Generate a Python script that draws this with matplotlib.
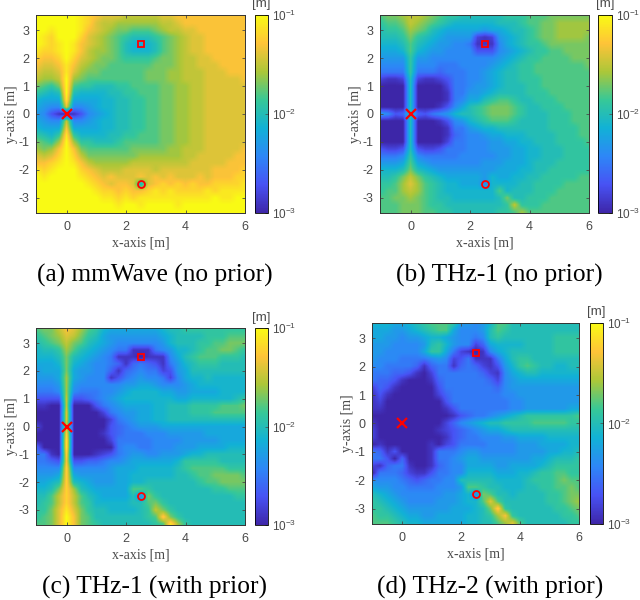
import matplotlib
matplotlib.use('Agg')
import matplotlib.pyplot as plt
import numpy as np
from matplotlib.colors import LinearSegmentedColormap

plt.rcParams['font.family'] = 'Liberation Sans'
plt.rcParams['mathtext.fontset'] = 'custom'
plt.rcParams['mathtext.rm'] = 'Liberation Sans'
plt.rcParams['mathtext.default'] = 'regular'
plt.rcParams['axes.unicode_minus'] = False

# grid of the maps, one cell every 0.25 m
x_cells = np.arange(29) * 0.25 - 1
y_cells = 3.5 - np.arange(29) * 0.25

# error, tenths of a decade above 1e-3 m
mmwave = [
[20,20,20,20,20,20,19,18,17,16,16,16,15,15,15,15,15,16,16,17,17,17,17,17,17,17,17,17,17],
[20,20,20,20,20,20,19,18,16,15,15,14,14,14,14,14,14,15,15,16,17,17,17,17,17,17,17,17,17],
[20,20,19,20,20,20,19,17,16,15,14,13,13,12,12,12,13,14,15,15,16,16,17,17,17,17,17,17,17],
[20,19,18,20,20,20,18,16,15,14,13,12,11,10,10,10,11,12,13,14,15,16,16,17,17,17,17,17,17],
[20,19,18,19,20,19,17,16,15,14,13,12,10,9,8,9,10,12,13,14,15,16,16,17,17,17,17,17,17],
[19,18,18,19,20,19,17,15,14,14,13,12,10,9,9,9,10,12,13,14,15,16,16,17,17,17,17,17,17],
[18,17,17,18,20,18,16,15,14,13,13,12,11,11,11,11,12,13,13,14,15,15,16,16,17,17,17,17,17],
[17,16,16,17,19,17,15,14,13,13,12,12,12,12,12,12,13,13,13,14,15,15,16,16,16,17,17,17,17],
[16,15,15,16,19,16,14,13,13,12,12,12,12,12,12,13,13,13,14,14,15,15,15,16,16,16,17,17,17],
[15,14,14,15,20,14,13,12,12,12,12,12,12,12,12,13,13,13,14,14,15,15,15,16,16,16,16,16,17],
[13,12,11,13,20,12,11,11,10,10,10,11,11,12,12,12,12,13,13,14,14,15,15,16,16,16,16,16,16],
[11,10,9,10,20,10,9,9,9,9,10,10,11,11,12,12,12,13,13,14,14,15,15,16,16,16,16,16,16],
[9,8,8,8,19,8,8,8,8,9,9,10,10,11,11,12,12,13,13,14,14,15,15,16,16,16,16,16,16],
[8,7,6,6,16,6,6,7,8,9,9,10,10,11,11,12,12,13,13,14,14,15,15,16,16,16,16,16,16],
[7,6,3,1,0,1,3,6,7,8,9,10,10,11,11,12,12,13,13,14,14,15,15,16,16,16,16,16,16],
[8,7,6,6,15,6,6,7,8,9,9,10,10,11,11,12,12,13,13,14,14,15,15,16,16,16,16,16,16],
[9,8,8,8,17,8,8,8,8,9,9,10,10,11,11,12,12,13,13,14,14,15,15,16,16,16,16,16,16],
[11,10,9,11,19,11,9,9,9,9,10,10,11,11,12,12,12,13,13,14,14,15,15,16,16,16,16,16,16],
[13,12,11,14,20,14,11,11,10,10,10,11,12,12,12,12,12,13,13,14,14,15,15,16,16,16,16,16,16],
[14,13,14,17,20,17,13,12,12,12,12,12,12,13,13,13,13,13,14,14,15,15,15,16,16,16,16,16,17],
[16,15,16,18,20,18,15,13,13,13,13,13,13,13,14,14,14,14,14,14,15,15,16,16,16,16,16,17,17],
[17,17,18,19,20,19,17,15,14,14,14,14,14,15,15,15,15,15,15,15,15,16,16,16,16,16,17,17,17],
[19,18,19,20,20,20,18,17,16,15,15,15,16,16,16,16,15,16,16,16,16,16,16,16,17,17,17,17,18],
[20,19,20,20,20,20,19,18,17,16,17,16,16,16,17,16,17,16,17,16,16,16,17,16,17,17,17,18,18],
[20,20,20,20,20,20,20,19,18,17,16,17,17,16,9,16,17,18,17,18,17,18,17,17,18,18,18,18,19],
[20,20,20,20,20,20,20,20,19,18,18,17,18,17,17,18,19,18,19,18,18,18,18,19,18,19,19,19,19],
[20,20,20,20,20,20,20,20,20,19,19,18,19,18,19,19,19,19,19,19,19,19,19,19,20,19,19,20,20],
[20,20,20,20,20,20,20,20,20,20,20,19,20,20,19,20,20,20,20,19,20,20,20,20,20,20,20,20,20],
[20,20,20,20,20,20,20,20,20,20,20,20,20,20,20,20,20,20,20,20,20,20,20,20,20,20,20,20,20],
]

thz1_no_prior = [
[12,13,13,14,15,15,14,13,12,11,11,10,10,10,10,10,10,11,11,11,12,12,12,13,13,13,13,13,13],
[11,12,12,13,15,14,13,12,11,10,9,9,9,9,9,9,10,10,10,11,12,12,13,13,14,14,14,14,14],
[10,11,11,12,14,13,12,10,9,8,8,8,8,8,7,8,8,9,10,10,11,12,13,13,14,14,14,14,14],
[10,10,10,11,13,11,10,9,8,7,7,7,7,2,1,2,7,8,9,10,11,12,13,13,14,14,14,14,13],
[9,9,9,10,12,10,9,8,7,7,6,6,5,1,1,1,6,8,9,10,11,11,12,13,13,13,13,13,13],
[8,8,8,9,12,9,8,7,7,6,6,6,6,3,3,3,6,7,8,9,10,11,11,12,12,13,13,13,13],
[7,7,7,7,11,7,7,6,6,6,6,6,6,6,6,6,7,8,9,10,11,11,12,12,12,12,13,13,13],
[6,6,6,6,11,6,6,6,5,5,5,6,6,6,6,7,8,9,10,11,11,12,12,12,12,12,12,12,13],
[5,5,5,5,11,5,5,5,4,5,5,5,6,6,7,8,9,10,10,11,11,12,12,12,12,12,12,12,12],
[2,1,1,2,10,2,1,1,2,3,5,5,6,6,7,8,9,10,10,11,11,11,12,12,12,12,12,12,12],
[0,0,0,0,10,0,0,0,0,2,5,5,6,7,7,8,9,10,10,10,11,11,12,12,12,12,12,12,12],
[0,0,0,0,10,0,0,0,0,1,5,5,7,7,8,9,10,10,10,10,11,11,11,12,12,12,12,12,12],
[0,0,0,0,10,0,0,0,0,1,5,6,8,8,10,11,12,12,11,10,10,11,11,11,12,12,12,12,12],
[0,0,0,0,10,0,0,0,1,3,6,8,10,11,12,13,13,13,12,11,10,10,11,11,11,12,12,12,12],
[7,6,3,4,10,4,3,5,6,7,9,10,10,11,12,13,13,13,12,11,10,10,10,11,11,11,12,12,12],
[0,0,0,0,10,0,0,0,1,3,6,7,9,10,11,12,12,12,11,10,10,10,10,11,11,11,12,12,12],
[0,0,0,0,10,0,0,0,0,1,5,5,7,8,9,9,10,10,10,10,10,10,10,11,11,11,11,12,12],
[0,0,0,0,10,0,0,0,0,1,4,5,6,6,7,8,8,9,9,9,10,10,10,10,11,11,11,12,12],
[0,0,0,0,10,0,0,0,0,2,5,5,6,6,6,7,7,8,8,9,9,10,10,10,11,11,11,11,12],
[3,2,2,3,10,3,2,2,3,5,5,5,6,6,6,7,7,7,8,8,9,9,10,10,10,11,11,11,11],
[5,5,5,6,11,6,5,5,5,5,5,6,6,6,6,6,7,7,8,8,9,9,10,10,10,11,11,11,11],
[7,7,7,8,12,8,7,6,6,6,6,6,6,6,7,7,7,8,8,8,9,10,10,10,11,11,11,11,11],
[9,9,9,10,13,10,9,8,7,7,7,7,7,7,7,7,8,8,8,9,9,10,10,11,11,11,11,11,11],
[10,10,11,13,15,13,11,10,9,8,8,8,8,8,7,9,8,8,9,9,10,10,11,11,11,11,11,12,12],
[11,11,12,14,16,14,12,11,10,9,9,8,8,8,6,9,9,9,9,10,10,11,11,11,11,12,12,12,12],
[11,12,12,14,15,14,12,11,10,9,9,9,9,9,9,9,12,9,10,10,10,11,11,11,12,12,12,12,12],
[12,12,13,13,14,13,12,11,10,10,9,9,9,9,9,9,10,13,10,10,11,11,11,12,12,12,12,12,12],
[12,12,12,13,13,13,12,11,11,10,10,10,10,10,10,10,10,11,15,11,11,11,12,12,12,12,12,12,12],
[12,12,12,13,13,13,12,12,11,11,10,10,10,10,10,10,11,11,12,14,12,12,12,12,12,12,12,12,12],
]

thz1_prior = [
[12,13,13,15,17,16,14,12,11,9,8,8,8,8,8,8,8,9,10,10,11,11,11,11,11,11,11,11,11],
[11,12,13,14,16,15,13,11,10,8,7,7,7,7,7,7,7,8,9,10,10,10,10,11,11,11,12,12,12],
[10,11,12,13,15,13,12,10,9,8,7,6,6,6,6,6,6,7,9,10,10,10,11,11,12,12,13,13,13],
[9,10,10,11,14,12,10,9,8,7,6,5,5,1,1,1,5,6,7,9,9,10,11,12,12,13,13,12,11],
[9,9,9,10,13,10,9,8,7,6,5,1,1,1,0,1,1,1,6,8,10,11,12,12,12,11,11,11,10],
[8,8,8,9,13,9,8,7,6,6,5,4,1,4,5,4,3,1,5,7,9,10,11,11,11,10,10,10,10],
[7,8,8,8,13,8,7,7,6,6,4,1,4,5,6,5,5,2,3,7,8,10,10,10,10,10,10,10,10],
[7,7,7,8,14,8,7,6,6,6,1,3,5,6,7,6,6,5,2,6,8,9,9,10,9,9,9,9,9],
[6,6,6,7,14,7,6,6,6,6,6,6,7,7,8,8,7,6,6,6,7,8,9,9,9,9,9,9,9],
[5,5,5,6,14,6,5,5,5,6,6,7,8,9,9,9,9,8,8,7,7,8,8,8,8,9,9,9,9],
[3,3,3,3,15,3,3,4,5,6,7,8,9,9,9,9,9,9,9,8,8,9,9,9,9,9,9,10,11],
[1,1,0,0,15,0,0,0,3,5,6,7,8,8,8,8,9,9,10,10,10,11,11,11,11,12,12,12,13],
[0,0,0,0,16,0,0,0,0,2,5,6,7,7,8,8,9,9,10,10,10,11,11,11,12,12,12,12,12],
[0,0,0,0,16,0,0,0,0,0,2,5,6,7,8,8,9,9,10,10,10,10,10,10,10,10,10,10,10],
[2,0,0,0,15,0,0,0,0,0,3,4,5,6,7,7,7,8,8,8,8,8,8,8,8,8,8,8,8],
[0,0,0,0,18,0,0,0,0,1,3,4,5,5,5,6,6,6,7,7,7,7,7,8,8,8,8,8,8],
[0,0,0,0,19,0,0,0,0,0,2,5,5,5,5,5,6,6,6,6,7,7,7,7,7,8,8,8,8],
[4,0,0,0,19,0,0,0,0,0,0,5,6,6,5,5,6,6,6,7,7,7,8,8,8,8,9,9,9],
[5,5,1,0,18,0,0,0,1,2,3,5,6,7,7,6,6,7,7,7,8,9,9,10,10,10,10,10,10],
[5,5,4,3,17,3,3,4,4,5,6,6,7,8,8,8,8,8,8,9,11,11,11,11,11,10,10,10,10],
[6,6,6,6,18,6,6,6,6,6,7,8,8,8,9,9,9,9,9,10,11,12,12,12,12,12,11,11,11],
[7,7,7,8,18,8,7,7,7,7,7,8,8,9,9,9,9,9,9,10,10,11,12,12,13,13,13,13,12],
[8,8,9,10,18,10,9,8,7,7,7,8,8,9,9,10,10,10,10,10,10,10,11,12,12,13,13,13,13],
[9,9,10,13,18,14,10,9,8,8,8,8,8,12,12,11,10,10,10,10,10,10,10,10,11,11,12,12,12],
[10,10,12,15,18,15,12,10,9,8,8,8,8,10,6,13,11,10,10,10,10,10,10,10,10,10,10,11,11],
[10,11,12,15,18,15,12,11,9,9,9,9,9,10,10,12,13,11,10,10,10,10,10,10,10,10,10,10,10],
[11,11,13,16,19,16,13,11,10,10,9,9,9,9,10,11,15,13,11,10,10,10,10,10,10,10,10,10,10],
[11,12,13,16,20,17,13,12,10,10,10,10,10,10,10,11,12,18,13,11,10,10,10,10,10,10,10,10,10],
[12,12,13,16,20,17,13,12,11,10,10,10,10,10,10,10,11,12,19,14,11,10,10,10,10,10,10,10,10],
]

thz2_prior = [
[9,9,9,8,8,9,10,11,12,12,12,11,7,7,6,7,9,12,12,10,10,10,10,10,10,10,10,10,10],
[8,8,8,7,7,8,9,10,11,12,12,8,6,6,6,7,10,12,11,10,10,10,10,10,10,10,10,10,10],
[8,8,7,7,6,7,7,8,9,9,8,7,6,6,5,6,10,11,10,10,10,10,10,10,10,11,11,11,11],
[7,7,7,6,6,6,6,7,10,11,9,7,6,6,2,4,8,9,9,9,9,10,10,10,10,11,11,11,11],
[7,7,6,6,6,6,6,8,11,11,8,5,2,1,0,1,6,8,9,10,10,10,10,10,10,11,11,11,11],
[7,6,6,6,5,5,5,5,6,7,6,2,3,5,1,1,1,5,8,10,11,11,10,10,10,10,10,10,10],
[6,6,5,5,5,5,4,1,4,5,5,1,4,5,4,2,1,3,7,9,11,12,11,10,10,9,9,10,10],
[5,5,5,4,4,3,1,0,2,5,5,5,5,5,5,4,2,1,6,8,9,10,10,9,9,9,9,9,9],
[5,4,4,3,1,0,0,0,1,4,5,5,5,5,5,5,4,2,6,7,8,8,8,8,8,8,8,8,8],
[2,4,3,1,0,0,0,0,0,3,5,5,5,5,5,5,5,4,6,7,7,7,7,7,7,7,7,7,7],
[1,3,1,0,0,0,0,0,0,2,4,5,5,5,5,5,5,5,6,6,7,7,7,7,7,7,7,7,7],
[1,2,0,0,0,0,0,0,0,0,3,5,5,5,5,5,5,5,5,6,6,7,7,7,7,7,7,7,7],
[1,1,0,0,0,0,0,0,0,0,1,3,5,5,5,5,5,5,5,6,6,7,7,7,7,7,7,8,8],
[0,0,0,0,0,0,0,0,0,0,0,1,3,4,5,5,6,7,8,9,10,11,11,11,11,11,11,11,12],
[1,0,0,0,0,0,0,0,0,0,2,4,6,7,8,9,10,10,11,11,11,11,12,12,12,12,12,11,11],
[2,0,0,0,0,0,0,0,0,1,2,3,4,5,6,7,8,8,9,10,10,10,10,10,10,10,10,10,10],
[2,0,0,0,0,0,0,0,0,0,1,3,4,5,5,6,6,6,7,7,8,8,8,8,9,9,9,9,9],
[0,1,0,0,0,0,0,0,1,0,2,3,5,5,5,5,6,6,6,6,7,7,7,8,8,8,8,9,9],
[5,4,1,3,0,0,0,0,1,5,5,5,6,7,7,6,6,6,6,6,7,7,7,7,8,8,9,9,10],
[5,5,3,0,4,0,0,0,1,5,5,6,7,8,8,7,7,7,7,7,7,7,8,8,9,10,10,10,11],
[2,1,4,5,5,1,0,0,1,4,5,6,6,8,8,8,8,7,7,8,8,8,8,9,10,11,11,11,11],
[0,5,5,5,4,2,1,1,3,5,5,6,6,9,9,9,9,8,8,8,9,9,10,11,11,12,12,11,11],
[6,6,6,6,5,4,3,4,5,5,6,6,10,10,10,10,10,9,9,9,9,10,11,11,11,12,13,12,12],
[8,7,7,6,6,5,5,5,5,6,6,6,7,12,12,11,10,10,9,9,9,10,10,11,11,12,12,13,12],
[10,9,8,7,6,6,6,6,6,6,7,7,8,9,6,13,12,10,10,9,10,10,10,10,11,11,12,13,13],
[11,10,9,8,7,6,6,6,6,7,7,7,8,9,9,12,16,12,10,10,10,10,10,10,11,11,12,13,14],
[11,11,10,9,8,7,7,7,7,7,7,8,8,8,9,10,13,18,11,10,10,10,10,10,10,11,11,12,13],
[12,11,11,10,9,8,8,7,7,8,8,8,8,9,9,10,11,14,17,11,10,10,10,10,10,10,11,11,12],
[12,12,12,11,10,9,9,8,8,8,8,8,8,9,9,10,10,12,14,16,12,10,10,10,10,10,10,11,11],
]

captions = ['(a) mmWave (no prior)', '(b) THz-1 (no prior)', '(c) THz-1 (with prior)', '(d) THz-2 (with prior)']
maps = [mmwave, thz1_no_prior, thz1_prior, thz2_prior]
# pixel boxes of each panel: axes left, right, top, bottom, colorbar left, right
boxes = [(36, 245, 15, 213, 255, 268),
         (380, 589, 15, 213, 598, 612),
         (36, 245, 328, 525, 255, 268),
         (372, 579, 323, 524, 590, 603)]
caption_pos = [(155, 275), (499, 275), (155, 587), (490, 587)]

bs_pos = (0, 0)
ris_pos = (2.5, 2.5)
ue_pos = (2.5, -2.5)

parula = LinearSegmentedColormap.from_list('parula', [
    (0.2422, 0.1504, 0.6603), (0.2810, 0.3228, 0.9579), (0.1786, 0.5289, 0.9682),
    (0.0689, 0.6948, 0.8394), (0.2161, 0.7843, 0.5923), (0.6720, 0.7793, 0.2227),
    (0.9970, 0.7659, 0.2199), (0.9769, 0.9839, 0.0805)])

W, H = 640, 600
gray = '#4a4a4a'
fig = plt.figure(figsize=(W / 100, H / 100), dpi=100)


def px_axes(l, r, t, b):
    return fig.add_axes([l / W, 1 - b / H, (r - l) / W, (b - t) / H])


for m, box, cap, cp in zip(maps, boxes, captions, caption_pos):
    l, r, t, b, cl, cr = box
    ax = px_axes(l, r, t, b)
    log_err = np.array(m) / 10 - 3
    dx = (x_cells[1] - x_cells[0]) / 2
    im = ax.imshow(log_err, cmap=parula, vmin=-3, vmax=-1, aspect='auto', interpolation='bilinear',
                   extent=(x_cells[0] - dx, x_cells[-1] + dx, y_cells[-1] - dx, y_cells[0] + dx))
    ax.set_xlim(-1.03, 6)
    ax.set_ylim(-3.54, 3.54)
    ax.set_xticks([0, 2, 4, 6])
    ax.set_yticks([-3, -2, -1, 0, 1, 2, 3])
    ax.tick_params(direction='in', length=2, width=0.6, top=True, right=True, labelsize=9, colors=gray)
    ax.tick_params(axis='x', pad=6)
    ax.tick_params(axis='y', pad=5)
    ax.set_xlabel('x-axis [m]', family='Liberation Serif', fontsize=10, color=gray, labelpad=2)
    ax.set_ylabel('y-axis [m]', family='Liberation Serif', fontsize=10, color=gray, labelpad=0)
    for s in ax.spines.values():
        s.set_linewidth(0.7)
        s.set_color('#333333')

    ax.plot(*bs_pos, 'x', color='red', ms=7, mew=1.6)
    ax.plot(*ris_pos, 's', mfc='none', mec='red', ms=4.5, mew=1.3)
    ax.plot(*ue_pos, 'o', mfc='none', mec='red', ms=5, mew=1.3)

    cax = px_axes(cl, cr, t, b)
    cb = fig.colorbar(im, cax=cax, ticks=[-3, -2, -1])
    cb.set_ticklabels(['$10^{-3}$', '$10^{-2}$', '$10^{-1}$'])
    cb.ax.tick_params(direction='in', length=2, width=0.5, labelsize=8.5, colors=gray, pad=3)
    cb.outline.set_linewidth(0.6)
    fig.text((cl + cr) / 2 / W, 1 - (t - 10.5) / H, '[m]', ha='center', va='center',
             family='Liberation Sans', fontsize=9.5, color=gray)

    fig.text(cp[0] / W, 1 - cp[1] / H, cap, ha='center', va='center',
             family='Liberation Serif', fontsize=18.3, color='black')

fig.savefig('out.png', dpi=100)
